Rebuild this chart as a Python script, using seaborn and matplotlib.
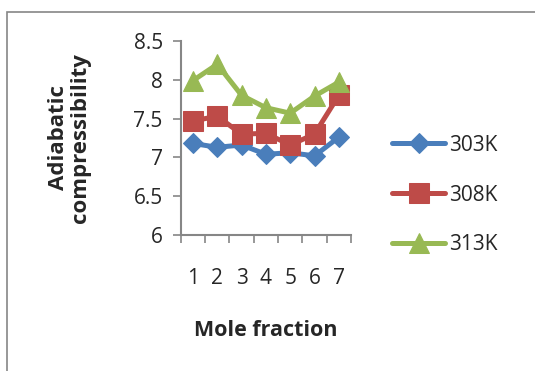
import matplotlib
matplotlib.use("Agg")
import matplotlib.pyplot as plt
import seaborn as sns
import pandas as pd
import numpy as np
from matplotlib.patches import Rectangle

mole_fraction = [1, 2, 3, 4, 5, 6, 7]
k303 = [7.18, 7.13, 7.16, 7.04, 7.06, 7.02, 7.26]
k308 = [7.47, 7.53, 7.30, 7.31, 7.16, 7.30, 7.80]
k313 = [7.99, 8.20, 7.80, 7.64, 7.57, 7.79, 7.97]
series_names = ["303K", "308K", "313K"]

df = pd.DataFrame({
    "x": mole_fraction * 3,
    "y": k303 + k308 + k313,
    "series": [series_names[0]] * 7 + [series_names[1]] * 7 + [series_names[2]] * 7,
})

sns.set_style("white")
plt.rcParams['font.family'] = ['Open Sans', 'DejaVu Sans']

fig = plt.figure(figsize=(5.35, 3.71), dpi=100)
ax = fig.add_axes([0.338, 0.3666, 0.318, 0.5229])

palette = {"303K": "#4A7EBB", "308K": "#BE4B48", "313K": "#98B954"}
markers = {"303K": "D", "308K": "s", "313K": "^"}
sizes = {"303K": 10, "308K": 14, "313K": 14}

for name in series_names:
    sub = df[df["series"] == name]
    sns.lineplot(data=sub, x="x", y="y", ax=ax, color=palette[name],
                 marker=markers[name], markersize=sizes[name], linewidth=3.6,
                 markeredgecolor=palette[name], label=name)

ax.set_xlim(0.5, 7.5)
ax.set_ylim(6, 8.5)
ax.set_yticks([6, 6.5, 7, 7.5, 8, 8.5])
ax.set_yticklabels(["6", "6.5", "7", "7.5", "8", "8.5"], fontsize=15)
ax.set_xticks(np.arange(0.5, 8, 1))
ax.set_xticklabels([])
ax.set_xticks(mole_fraction, minor=True)
ax.set_xticklabels([str(v) for v in mole_fraction], minor=True, fontsize=15)
ax.tick_params(axis='x', which='minor', length=0, pad=24)
ax.tick_params(axis='x', which='major', length=6, width=1.2, color="#868686", direction='out', bottom=True)
ax.tick_params(axis='y', length=6, width=1.2, color="#868686", direction='out', left=True, pad=7)

for s in ["top", "right"]:
    ax.spines[s].set_visible(False)
for s in ["left", "bottom"]:
    ax.spines[s].set_color("#868686")
    ax.spines[s].set_linewidth(1.5)

ax.set_xlabel("Mole fraction", fontsize=15.5, fontweight="bold", labelpad=22)
ax.set_ylabel("Adiabatic\ncompressibility", fontsize=16, fontweight="bold", linespacing=1.05)
ax.yaxis.set_label_coords(-0.53, 0.5)

leg = ax.legend(loc="center left", bbox_to_anchor=(1.133, 0.206), frameon=False,
                fontsize=15, handlelength=2.55, labelspacing=1.38, handletextpad=0.15)

fig.patches.append(Rectangle((7 / 535, -0.05), 1.0, 1 - 12 / 371 + 0.05,
                             transform=fig.transFigure, fill=False,
                             edgecolor="#868686", linewidth=1.2))

fig.savefig("out.png", dpi=100)
